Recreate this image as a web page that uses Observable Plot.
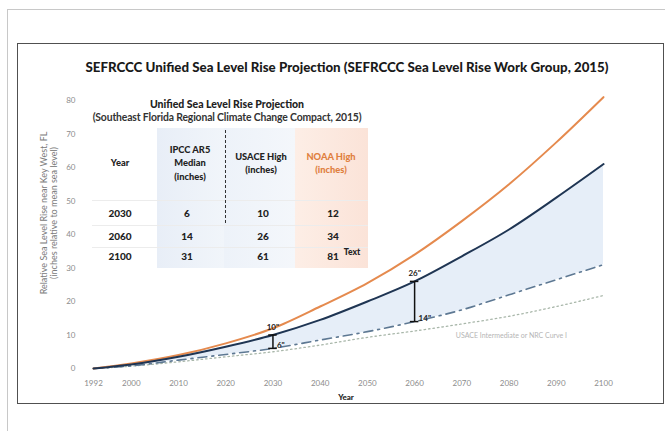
<!DOCTYPE html>
<html>
<head>
<meta charset="utf-8">
<script src="https://cdn.jsdelivr.net/npm/d3@7"></script>
<script src="https://cdn.jsdelivr.net/npm/@observablehq/plot@0.6"></script>
<style>
  html, body { margin: 0; padding: 0; background: #fff; width: 665px; height: 431px; overflow: hidden; font-family: Lato, "Open Sans", sans-serif; }
  #outer { position: absolute; left: 7px; top: 9px; width: 700px; height: 460px; border: 1px solid #c8c8c8; box-sizing: border-box; }
  #inner { position: absolute; left: 17px; top: 43px; width: 647px; height: 361px; border: 1.5px solid #505050; box-sizing: border-box; }
  #title { position: absolute; left: 17px; width: 660px; top: 59px; text-align: center; font-weight: 900; font-size: 13.3px; color: #1a1a1a; white-space: nowrap; }
  #chart { position: absolute; left: 0; top: 0; }
  .ylab { position: absolute; white-space: nowrap; font-size: 9px; color: #7a7a7a; transform: translate(-50%, -50%) rotate(-90deg); }
  #xlab { position: absolute; left: 346px; top: 397px; transform: translate(-50%, -50%); font-weight: 900; font-size: 8px; color: #222; }
  #tbl { position: absolute; left: 90px; top: 95px; width: 278px; height: 173px; background: #fff; }
  .cell { position: absolute; text-align: center; transform: translate(-50%, -50%); font-weight: 900; font-size: 10px; color: #222; white-space: nowrap; line-height: 1.45; }
  .band { position: absolute; }
  .sep { position: absolute; height: 0; border-top: 1px solid #ececec; }
</style>
</head>
<body>
<div id="outer"></div>
<div id="inner"></div>
<div id="chart"></div>
<div id="title">SEFRCCC Unified Sea Level Rise Projection (SEFRCCC Sea Level Rise Work Group, 2015)</div>
<div class="ylab" style="left:43px; top:213px;">Relative Sea Level Rise near Key West, FL</div>
<div class="ylab" style="left:53px; top:213px;">(inches relative to mean sea level)</div>
<div id="xlab">Year</div>
<div id="tbl"></div>
<script>
// ---- data ----
const years      = [1992, 2000, 2010, 2020, 2030, 2040, 2050, 2060, 2070, 2080, 2090, 2100];
const noaaHigh   = [0, 1.5, 4.0, 7.5, 12, 18.5, 25.5, 34, 44, 55, 67.5, 81];
const usaceHigh  = [0, 1.2, 3.5, 6.5, 10, 14.5, 20, 26, 33.5, 41.5, 51, 61];
const ipccMedian = [0, 0.8, 2.5, 4.2, 6, 8.5, 11, 14, 17.5, 22, 26.5, 31];
const usaceInt   = [0, 0.7, 2.0, 3.5, 5, 7, 9.3, 11.2, 13.3, 15.6, 18.5, 21.8];
const xTicks     = [1992, 2000, 2010, 2020, 2030, 2040, 2050, 2060, 2070, 2080, 2090, 2100];
const yTicks     = [0, 10, 20, 30, 40, 50, 60, 70, 80];
const markYears  = [2030, 2060];
const markLow    = [6, 14];
const markHigh   = [10, 26];
const curveNote  = "USACE Intermediate or NRC Curve I";

const tableTitle    = "Unified Sea Level Rise Projection";
const tableSubtitle = "(Southeast Florida Regional Climate Change Compact, 2015)";
const tableHeaders  = ["Year", "IPCC AR5\nMedian\n(inches)", "USACE High\n(inches)", "NOAA High\n(inches)"];
const tableYears    = [2030, 2060, 2100];
const tableIpcc     = [6, 14, 31];
const tableUsace    = [10, 26, 61];
const tableNoaa     = [12, 34, 81];

// ---- build rows ----
const rows = years.map((y, i) => ({year: y, noaa: noaaHigh[i], usace: usaceHigh[i], ipcc: ipccMedian[i], inter: usaceInt[i]}));
const marks = markYears.map((y, i) => ({year: y, lo: markLow[i], hi: markHigh[i]}));

const curve = "monotone-x";
const plot = Plot.plot({
  width: 665, height: 431,
  marginLeft: 93, marginRight: 62, marginTop: 100, marginBottom: 63,
  style: {fontFamily: "Lato, 'Open Sans', sans-serif", background: "transparent", overflow: "visible"},
  x: {domain: [1992, 2100]},
  y: {domain: [0, 80]},
  marks: [
    Plot.areaY(rows, {x: "year", y1: "ipcc", y2: "usace", fill: "#e6eef8", curve}),
    Plot.line(rows, {x: "year", y: "inter", stroke: "#a9b7aa", strokeWidth: 1.3, strokeDasharray: "1.5,3", curve}),
    Plot.line(rows, {x: "year", y: "ipcc", stroke: "#5d7893", strokeWidth: 1.6, strokeDasharray: "9,5,2,5", curve}),
    Plot.line(rows, {x: "year", y: "noaa", stroke: "#e58a4e", strokeWidth: 2, curve}),
    Plot.line(rows, {x: "year", y: "usace", stroke: "#1f3553", strokeWidth: 2, curve}),
    Plot.ruleX(marks, {x: "year", y1: "lo", y2: "hi", stroke: "#111", strokeWidth: 1.5}),
    Plot.ruleY(marks, {y: "lo", x1: d => d.year - 0.9, x2: d => d.year + 0.9, stroke: "#111", strokeWidth: 1.5}),
    Plot.ruleY(marks, {y: "hi", x1: d => d.year - 0.9, x2: d => d.year + 0.9, stroke: "#111", strokeWidth: 1.5}),
    Plot.text(marks, {x: "year", y: "hi", text: d => d.hi + "\"", dy: -8, fontSize: 8, fontWeight: "bold", fill: "#222"}),
    Plot.text(marks, {x: "year", y: "lo", text: d => d.lo + "\"", dx: 4, dy: -3, textAnchor: "start", fontSize: 8, fontWeight: "bold", fill: "#222"}),
    Plot.text([curveNote], {x: 2080.5, y: 10, text: d => d, fontSize: 7, fill: "#b5b5b5", dy: 1}),
    Plot.axisX({ticks: xTicks, tickSize: 0, tickPadding: 12, tickFormat: d => String(d), fontSize: 8, color: "#8c8c8c", label: null}),
    Plot.axisY({ticks: yTicks, tickSize: 0, tickPadding: 18, fontSize: 8, color: "#8c8c8c", label: null})
  ]
});
document.getElementById("chart").appendChild(plot);

// ---- table overlay ----
const tbl = document.getElementById("tbl");
const ox = 90, oy = 95;
function add(cls, style, text) {
  const el = document.createElement("div");
  el.className = cls;
  Object.assign(el.style, style);
  if (text != null) el.textContent = text;
  tbl.appendChild(el);
  return el;
}
// column bands
add("band", {left: (157-ox)+"px", top: (128-oy)+"px", width: "67px", height: (268-128)+"px", background: "linear-gradient(90deg,#e8eef7,#f1f5fa)"});
add("band", {left: (224-ox)+"px", top: (128-oy)+"px", width: "71px", height: (268-128)+"px", background: "linear-gradient(90deg,#edf2f9,#f4f7fb)"});
add("band", {left: (295-ox)+"px", top: (128-oy)+"px", width: "73px", height: (268-128)+"px", background: "linear-gradient(90deg,#fdeee6,#fbe3d8)"});
// row separators
[200, 225, 247].forEach(y => add("sep", {left: "2px", top: (y-oy)+"px", width: "276px"}));
// dashed divider
add("band", {left: (225-ox)+"px", top: (130-oy)+"px", width: "0px", height: "93px", borderLeft: "1.3px dashed #333"});
// titles
add("cell", {left: (227-ox)+"px", top: (105-oy)+"px", fontSize: "10.5px"}, tableTitle);
add("cell", {left: (227-ox)+"px", top: (118-oy)+"px", fontSize: "10.4px", fontWeight: "bold", color: "#333", letterSpacing: "-0.15px"}, tableSubtitle);
// headers
const hx = [120, 190, 261, 331];
tableHeaders.forEach((h, i) => {
  add("cell", {left: (hx[i]-ox)+"px", top: (163-oy)+"px", fontSize: "9.3px", color: i===3 ? "#e0803f" : "#222", whiteSpace: "pre"}, h);
});
// rows
const ry = [213, 236, 256];
tableYears.forEach((yr, i) => {
  add("cell", {left: (hx[0]-ox)+"px", top: (ry[i]-oy)+"px"}, String(yr));
  add("cell", {left: (hx[1]-ox-3)+"px", top: (ry[i]-oy)+"px"}, String(tableIpcc[i]));
  add("cell", {left: (hx[2]-ox+2)+"px", top: (ry[i]-oy)+"px"}, String(tableUsace[i]));
  add("cell", {left: (hx[3]-ox+2)+"px", top: (ry[i]-oy)+"px"}, String(tableNoaa[i]));
});
add("cell", {left: (352-ox)+"px", top: (252-oy)+"px", fontSize: "8.5px"}, "Text");
</script>
</body>
</html>
